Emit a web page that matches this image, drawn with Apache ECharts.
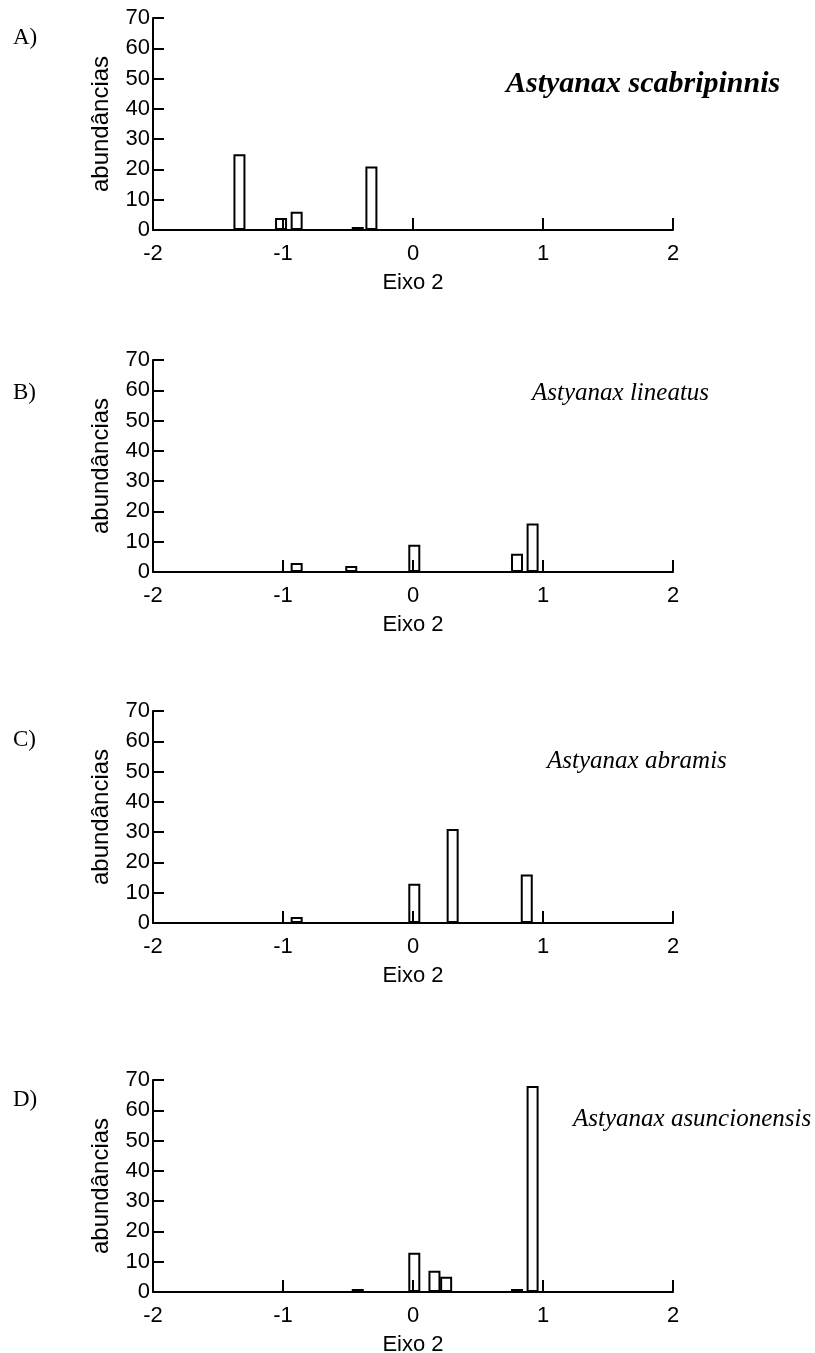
<!DOCTYPE html>
<html>
<head>
<meta charset="utf-8">
<script src="https://cdn.jsdelivr.net/npm/echarts@6/dist/echarts.min.js"></script>
<style>
  html, body { margin: 0; padding: 0; background: #fff; }
  #chart { width: 815px; height: 1353px; }
</style>
</head>
<body>
<div id="chart"></div>
<script>
// histogram positions along Eixo 2 and abundances, one pair per panel
var panelLetters = ['A)', 'B)', 'C)', 'D)'];
var speciesNames = ['Astyanax scabripinnis', 'Astyanax lineatus', 'Astyanax abramis', 'Astyanax asuncionensis'];

var posA = [-1.335, -1.015, -0.895, -0.425, -0.32];
var valA = [25, 4, 6, 1, 21];
var posB = [-0.895, -0.475, 0.01, 0.8, 0.92];
var valB = [3, 2, 9, 6, 16];
var posC = [-0.895, 0.01, 0.305, 0.875];
var valC = [2, 13, 31, 16];
var posD = [-0.425, 0.01, 0.165, 0.255, 0.8, 0.92];
var valD = [1, 13, 7, 5, 1, 68];

var xName = 'Eixo 2';
var yName = 'abundâncias';

var chart = echarts.init(document.getElementById('chart'));

var positions = [posA, posB, posC, posD];
var values = [valA, valB, valC, valD];
var gridTops = [18, 360, 711, 1080];
var gridHeight = 212;
var letterY = [38, 393, 740, 1100];
var nameX = [506, 532, 547, 573];
var nameY = [84, 394, 762, 1120];

function pairs(xs, ys) {
  return xs.map(function (x, i) { return [x, ys[i]]; });
}

var grids = [], xAxes = [], yAxes = [], series = [], titles = [];
for (var i = 0; i < 4; i++) {
  grids.push({
    left: 153, width: 520, top: gridTops[i], height: gridHeight,
    outerBoundsMode: 'none', containLabel: false
  });
  xAxes.push({
    type: 'value', gridIndex: i, min: -2, max: 2, interval: 1,
    name: xName, nameLocation: 'middle', nameGap: 42,
    nameTextStyle: { fontFamily: 'Liberation Sans', fontSize: 22, color: '#000' },
    axisLine: { onZero: false, lineStyle: { color: '#000', width: 2 } },
    axisTick: { inside: true, length: 12, lineStyle: { color: '#000', width: 2 } },
    axisLabel: { fontFamily: 'Liberation Sans', fontSize: 22, color: '#000', margin: 13 },
    splitLine: { show: false },
    z: 3
  });
  yAxes.push({
    type: 'value', gridIndex: i, min: 0, max: 70, interval: 10,
    name: yName, nameLocation: 'middle', nameGap: 40, nameRotate: 90,
    nameTextStyle: { fontFamily: 'Liberation Sans', fontSize: 24, color: '#000' },
    axisLine: { show: true, onZero: false, lineStyle: { color: '#000', width: 2 } },
    axisTick: { show: true, inside: true, length: 11, lineStyle: { color: '#000', width: 2 } },
    axisLabel: { fontFamily: 'Liberation Sans', fontSize: 22, color: '#000', margin: 3 },
    splitLine: { show: false },
    z: 3
  });
  series.push({
    type: 'bar', xAxisIndex: i, yAxisIndex: i,
    data: pairs(positions[i], values[i]),
    barWidth: 12,
    itemStyle: { color: '#fff', borderColor: '#000', borderWidth: 2 },
    silent: true
  });
  titles.push({
    text: panelLetters[i], left: 13, top: letterY[i] - 12, padding: 0,
    textStyle: { fontFamily: 'Liberation Serif', fontWeight: 'normal', fontSize: 23, color: '#000' }
  });
  titles.push({
    text: speciesNames[i], left: nameX[i], top: nameY[i] - (i === 0 ? 15 : 13), padding: 0,
    textStyle: {
      fontFamily: 'Liberation Serif', fontStyle: 'italic',
      fontWeight: i === 0 ? 'bold' : 'normal',
      fontSize: i === 0 ? 30 : 25, color: '#000'
    }
  });
}

chart.setOption({
  animation: false,
  backgroundColor: '#fff',
  title: titles,
  grid: grids,
  xAxis: xAxes,
  yAxis: yAxes,
  series: series
});
</script>
</body>
</html>
